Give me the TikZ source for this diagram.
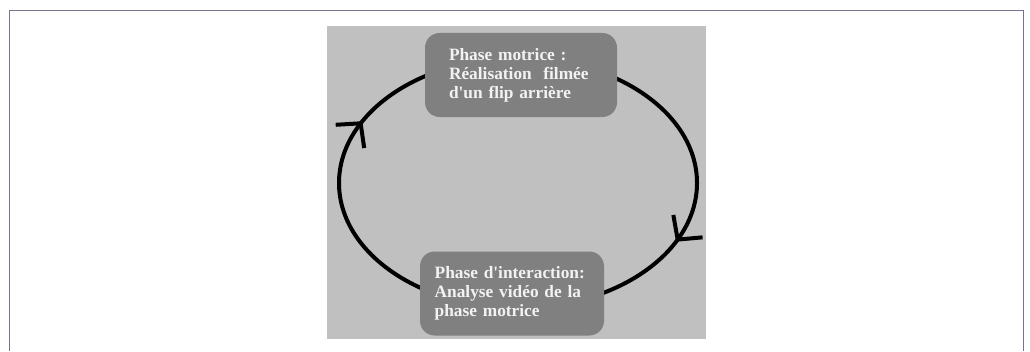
\documentclass[tikz,border=0pt]{standalone}
\usepackage{fontspec}
\setmainfont{Liberation Serif}[Ligatures=TeXOff]
\usetikzlibrary{arrows.meta,decorations.markings}
\definecolor{panel}{HTML}{C0C0C0}
\definecolor{phasegray}{HTML}{808080}
\definecolor{frameline}{HTML}{74748A}
\tikzset{
 barb/.tip
  = {Straight Barb[length=12.7pt, width=27.6pt, line width=3pt]},
 phase/.style
  = {rectangle, fill=phasegray, rounded corners=11pt, text=white!95!black,
     font=\bfseries\fontsize{13}{14.3}\selectfont, align=left, minimum height=63pt},
 cyc/.style
  = {draw, line width=3pt, postaction={decorate}, decoration={markings,
     mark=at position 0.066 with {\arrow{barb}},
     mark=at position 0.570 with {\arrow{barb}}}}
}
\begin{document}
\begin{tikzpicture}[x=0.75pt, y=0.75pt]
    \useasboundingbox (0,0) rectangle (1030,351);
    \draw [frameline, line width=1.1pt] (9.5,0) -- (9.5,340.5) -- (1023.5,340.5) -- (1023.5,0);
    \fill [panel] (327,12) rectangle (706,325);
    \coordinate (centre) at (518,168);
    \path [cyc] (centre) ++(179,0) arc [start angle=360, end angle=0, x radius=179, y radius=125];

    \node [phase, text width=108pt, inner xsep=18pt] (motrice) at (521,276) {Phase motrice :\\ Réalisation~~filmée\\ d'un flip arrière};
    \node [phase, text width=116pt, inner xsep=11pt] (interaction) at (512,57.5) {Phase d'interaction:\\ Analyse vidéo de la\\ phase motrice};
\end{tikzpicture}
\end{document}
